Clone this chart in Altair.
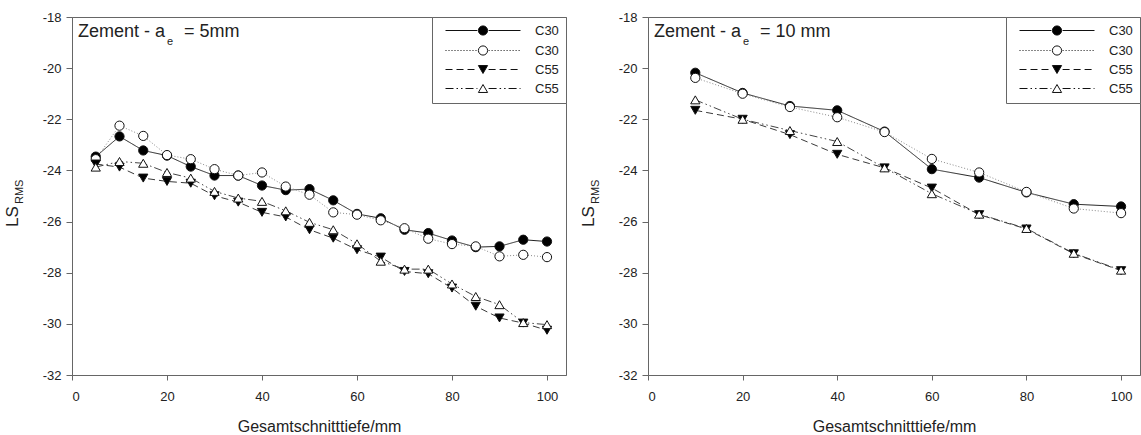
import altair as alt
import pandas as pd

FONT = "Liberation Sans"

# ---------------- data ----------------
depth_5mm = [5, 10, 15, 20, 25, 30, 35, 40, 45, 50, 55, 60, 65, 70, 75, 80, 85, 90, 95, 100]
c30_filled_5mm = [-23.46, -22.67, -23.22, -23.42, -23.85, -24.2, -24.2, -24.59, -24.77, -24.73,
                  -25.17, -25.7, -25.87, -26.32, -26.45, -26.74, -27.0, -26.97, -26.71, -26.78]
c30_open_5mm = [-23.56, -22.25, -22.65, -23.4, -23.56, -23.95, -24.2, -24.08, -24.63, -24.95,
                -25.64, -25.73, -25.95, -26.26, -26.67, -26.88, -26.97, -27.36, -27.3, -27.39]
c55_filled_5mm = [-23.75, -23.87, -24.3, -24.43, -24.5, -24.99, -25.24, -25.64, -25.82, -26.32,
                  -26.65, -27.1, -27.39, -27.95, -28.04, -28.6, -29.31, -29.77, -29.97, -30.25]
c55_open_5mm = [-23.87, -23.65, -23.72, -24.08, -24.3, -24.82, -25.08, -25.21, -25.58, -26.03,
                -26.32, -26.87, -27.55, -27.86, -27.86, -28.44, -28.93, -29.25, -29.95, -30.03]

depth_10mm = [10, 20, 30, 40, 50, 60, 70, 80, 90, 100]
c30_filled_10mm = [-20.18, -20.97, -21.48, -21.65, -22.48, -23.95, -24.28, -24.86, -25.32, -25.41]
c30_open_10mm = [-20.38, -21.0, -21.52, -21.92, -22.5, -23.55, -24.08, -24.84, -25.49, -25.67]
c55_filled_10mm = [-21.65, -22.0, -22.6, -23.37, -23.9, -24.69, -25.73, -26.29, -27.26, -27.92]
c55_open_10mm = [-21.24, -22.0, -22.44, -22.87, -23.9, -24.91, -25.71, -26.27, -27.24, -27.9]

series_keys = ["C30_1", "C30_2", "C55_1", "C55_2"]
x_ticks = [0, 20, 40, 60, 80, 100]
y_ticks = [-32, -30, -28, -26, -24, -22, -20, -18]
x_domain = [0, 104]
y_domain = [-32, -18]

title_main = "Zement - a"
title_sub = "e"
title_rest_5mm = "= 5mm"
title_rest_10mm = "= 10 mm"
y_title_main = "LS"
y_title_sub = "RMS"
x_title = "Gesamtschnitttiefe/mm"

# ---------------- styles ----------------
line_dash = [[1, 0], [1, 2], [7, 4], [8, 3, 1.5, 3, 1.5, 3]]
line_color = ["#222222", "#8a8a8a", "#3a3a3a", "#444444"]
marker_shape = ["circle", "circle", "triangle-down", "triangle-up"]
marker_fill = ["#000000", "#ffffff", "#000000", "#ffffff"]
marker_stroke = ["#111111", "#111111", "#111111", "#111111"]
TEXT = "#222222"
FRAME = "#666666"


def dash_path(pattern, x0, x1):
    parts = []
    x = x0
    i = 0
    while x < x1 - 1e-6:
        seg = pattern[i % len(pattern)]
        if i % 2 == 0:
            parts.append(f"M{x:.2f},0H{min(x + seg, x1):.2f}")
        x += seg
        i += 1
    return "".join(parts)


def legend_symbol(dash, shape, length=75.0, r=4.6):
    cx = length / 2
    gap0, gap1 = cx - r - 1, cx + r + 1
    if dash == [1, 0]:
        line = f"M0,0H{gap0:.2f}M{gap1:.2f},0H{length:.2f}"
    else:
        line = dash_path(dash, 0, gap0) + dash_path(dash, gap1, length)
    if shape == "circle":
        mk = f"M{cx - r:.2f},0A{r},{r} 0 1,0 {cx + r:.2f},0A{r},{r} 0 1,0 {cx - r:.2f},0Z"
    elif shape == "triangle-down":
        h = 0.866 * r
        mk = f"M{cx - r:.2f},{-h:.2f}L{cx + r:.2f},{-h:.2f}L{cx:.2f},{h:.2f}Z"
    else:
        h = 0.866 * r
        mk = f"M{cx - r:.2f},{h:.2f}L{cx + r:.2f},{h:.2f}L{cx:.2f},{-h:.2f}Z"
    return line + mk


legend_paths = [legend_symbol(d, s) for d, s in zip(line_dash, marker_shape)]


def text_layer(text, x, y, size, angle=0):
    return alt.Chart(pd.DataFrame({"t": [text]})).mark_text(
        align="left", baseline="alphabetic", font=FONT, fontSize=size,
        color=TEXT, angle=angle,
    ).encode(text="t:N", x=alt.value(x), y=alt.value(y))


def panel(depth, values, rest, width, height):
    df = pd.concat(
        [pd.DataFrame({"x": depth, "y": v, "series": k}) for k, v in zip(series_keys, values)],
        ignore_index=True,
    )
    xenc = alt.X("x:Q", scale=alt.Scale(domain=x_domain, nice=False, zero=False),
                 axis=alt.Axis(values=x_ticks, title=x_title))
    yenc = alt.Y("y:Q", scale=alt.Scale(domain=y_domain, nice=False, zero=False),
                 axis=alt.Axis(values=y_ticks, title=None, labelExpr="datum.value + ''"))
    base = alt.Chart(df)
    lines = []
    points = []
    for k, dsh, col, shp, fll in zip(series_keys, line_dash, line_color, marker_shape, marker_fill):
        sub = base.transform_filter(alt.datum.series == k)
        lines.append(
            sub.mark_line(strokeWidth=1, stroke=col, strokeDash=dsh).encode(x=xenc, y=yenc)
        )
        points.append(
            sub.mark_point(
                shape=shp, filled=True, fill=fll, stroke="#111111", strokeWidth=1,
                size=85, opacity=1,
            ).encode(x="x:Q", y="y:Q")
        )
    leg = alt.Legend(
        title=None, orient="top-right", offset=0, padding=7, strokeColor=FRAME,
        fillColor="white", symbolSize=4, symbolStrokeWidth=1,
        symbolOpacity=1, labelFont=FONT, labelFontSize=13, labelColor=TEXT,
        labelOffset=83, rowPadding=5, labelExpr="substring(datum.label, 0, 3)",
    )
    legend_layer = alt.Chart(pd.DataFrame({"series": series_keys})).transform_filter("false").mark_point(
        filled=True, size=4, strokeWidth=1, opacity=1,
    ).encode(
        shape=alt.Shape("series:N", scale=alt.Scale(domain=series_keys, range=legend_paths), legend=leg),
        fill=alt.Fill("series:N", scale=alt.Scale(domain=series_keys, range=marker_fill), legend=leg),
        stroke=alt.Stroke("series:N", scale=alt.Scale(domain=series_keys, range=marker_stroke), legend=leg),
    )
    texts = [
        text_layer(title_main, 6, 20, 18),
        text_layer(title_sub, 95, 28, 11),
        text_layer(rest, 112, 20, 18),
        text_layer(y_title_main, -54, 210, 17, 270),
        text_layer(y_title_sub, -49, 187, 11, 270),
    ]
    return alt.layer(*lines, *points, legend_layer, *texts).properties(width=width, height=height)


left = panel(depth_5mm, [c30_filled_5mm, c30_open_5mm, c55_filled_5mm, c55_open_5mm], title_rest_5mm, 494, 358)
right = panel(depth_10mm, [c30_filled_10mm, c30_open_10mm, c55_filled_10mm, c55_open_10mm], title_rest_10mm, 492, 358)

chart = alt.hconcat(left, right, spacing=12).resolve_scale(
    shape="independent", fill="independent", stroke="independent",
).resolve_legend(
    shape="independent", fill="independent", stroke="independent",
).properties(
    padding={"left": 3, "top": 10, "right": 0, "bottom": 0},
    background="white",
).configure_view(stroke=FRAME, strokeWidth=1).configure_axis(
    domainColor=FRAME, tickColor=FRAME, labelFont=FONT, labelFontSize=13, labelColor=TEXT,
    titleFont=FONT, titleFontSize=16, titleFontWeight="normal", titleColor=TEXT, grid=False,
).configure_axisX(tickSize=5, labelPadding=10, titlePadding=15).configure_axisY(
    tickSize=6, labelPadding=5,
)

chart.save("out.html", embed_options={"renderer": "svg", "actions": False})
